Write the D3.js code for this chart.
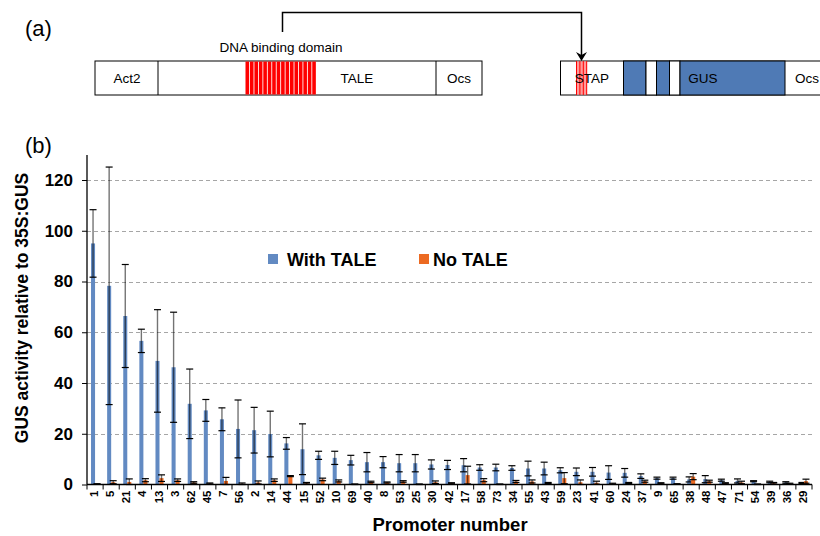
<!DOCTYPE html>
<html>
<head>
<meta charset="utf-8">
<script src="https://cdn.jsdelivr.net/npm/d3@7"></script>
<style>
  body { margin: 0; background: #fff; }
  svg { font-family: "Liberation Sans", Arial, sans-serif; }
</style>
</head>
<body>
<div id="chart-area"></div>
<script>
const promoters = ["1","5","21","4","13","3","62","45","7","56","2","14","44","15","52","10","69","40","8","53","25","30","42","17","58","73","34","55","43","59","23","41","60","24","37","9","65","38","48","47","71","54","39","36","29"]
const withTale = [95.0,78.3,66.4,56.6,48.7,46.2,31.8,29.2,25.7,21.9,21.4,19.9,16.2,13.9,11.5,10.5,9.6,8.8,8.8,8.4,8.4,7.9,7.7,7.6,6.7,6.7,6.5,6.3,6.3,5.6,5.0,5.0,4.7,4.6,3.3,2.5,2.5,2.0,2.1,1.7,1.4,1.3,1.0,0.8,0.6]
const withErr = [13.3,46.8,20.3,4.6,20.2,21.7,13.7,4.3,4.5,11.4,9.0,9.0,2.3,10.0,1.6,2.6,1.9,3.8,2.2,3.4,3.4,1.8,1.8,2.6,1.1,1.3,0.9,2.9,2.5,1.0,1.5,1.7,2.7,1.7,0.9,0.4,0.4,1.0,1.4,0.4,0.8,0.2,0.3,0.3,0.2]
const noTale = [0.2,0.9,1.0,1.7,2.5,1.7,0.8,0.4,1.4,0.3,0.8,1.7,3.3,0.5,2.0,1.4,0.1,1.0,0.8,1.2,0.1,0.9,0.5,3.7,1.7,0.1,1.2,1.2,0.6,2.5,0.9,0.7,0.3,0.6,1.3,0.5,0.2,3.1,1.3,0.5,0.8,0.1,0.5,0.3,1.3]
const noErr = [0.1,0.6,1.2,0.6,1.3,0.5,0.3,0.2,1.4,0.3,0.6,0.5,0.2,0.3,0.5,0.4,0.1,0.3,0.2,0.3,0.1,0.5,0.2,3.5,0.6,0.1,0.4,0.6,0.2,2.2,0.9,0.6,0.2,0.2,0.4,0.2,0.1,1.2,0.4,0.2,0.5,0.1,0.3,0.2,0.8]
const yTicks = [0, 20, 40, 60, 80, 100, 120]

const BLUE = "#628ac2"
const ORANGE = "#ec6a22"

const svg = d3.select("#chart-area").append("svg")
  .attr("width", 820)
  .attr("height", 536)

// ---- (a) construct diagram ----
const a = svg.append("g")
a.append("text").attr("x", 25).attr("y", 36).attr("font-size", "22px").text("(a)")

// TALE construct
a.append("rect").attr("x", 95).attr("y", 61).attr("width", 387).attr("height", 34)
  .attr("fill", "#fff").attr("stroke", "#000").attr("stroke-width", 1)
for (let i = 0; i < 16; i++) {
  a.append("rect").attr("x", 245.5 + i * 4.45).attr("y", 61.5).attr("width", 3.6).attr("height", 33)
    .attr("fill", "#ff0000")
}
a.append("line").attr("x1", 158).attr("x2", 158).attr("y1", 61).attr("y2", 95).attr("stroke", "#000")
a.append("line").attr("x1", 436).attr("x2", 436).attr("y1", 61).attr("y2", 95).attr("stroke", "#000")
a.append("text").attr("x", 127).attr("y", 83).attr("font-size", "13.5px").attr("text-anchor", "middle").text("Act2")
a.append("text").attr("x", 357).attr("y", 83).attr("font-size", "13.5px").attr("text-anchor", "middle").text("TALE")
a.append("text").attr("x", 459).attr("y", 83).attr("font-size", "13.5px").attr("text-anchor", "middle").text("Ocs")
a.append("text").attr("x", 281).attr("y", 52).attr("font-size", "13.5px").attr("text-anchor", "middle").text("DNA binding domain")

// connector arrow
a.append("path").attr("d", "M282.5,32 V12.5 H581.5 V57").attr("fill", "none").attr("stroke", "#000").attr("stroke-width", 1.5)
a.append("path").attr("d", "M576,52 L581.5,61 L587,52 L581.5,55 Z").attr("fill", "#000")

// reporter construct
a.append("rect").attr("x", 560.5).attr("y", 61).attr("width", 270).attr("height", 34)
  .attr("fill", "#fff").attr("stroke", "#000").attr("stroke-width", 1)
a.append("rect").attr("x", 576).attr("y", 61.5).attr("width", 11).attr("height", 33).attr("fill", "#ff9a9a")
for (let i = 0; i < 4; i++) {
  a.append("line").attr("x1", 576.5 + i * 3.4).attr("x2", 576.5 + i * 3.4).attr("y1", 61).attr("y2", 95)
    .attr("stroke", "#ff0000").attr("stroke-width", 1)
}
const blocks = [[623.5, 646, true], [646, 656.5, false], [656.5, 669.5, true], [669.5, 680, false], [680, 785, true]]
blocks.forEach(b => {
  a.append("rect").attr("x", b[0]).attr("y", 61).attr("width", b[1] - b[0]).attr("height", 34)
    .attr("fill", b[2] ? "#4f7ab5" : "#fff").attr("stroke", "#000").attr("stroke-width", 1)
})
a.append("text").attr("x", 592).attr("y", 83).attr("font-size", "13.5px").attr("text-anchor", "middle").text("STAP")
a.append("text").attr("x", 703).attr("y", 83).attr("font-size", "13.5px").attr("text-anchor", "middle").text("GUS")
a.append("text").attr("x", 807).attr("y", 83).attr("font-size", "13.5px").attr("text-anchor", "middle").text("Ocs")

// ---- (b) bar chart ----
svg.append("text").attr("x", 25).attr("y", 153).attr("font-size", "22px").text("(b)")

const MARGIN = { LEFT: 87, TOP: 155 }
const WIDTH = 725
const HEIGHT = 484.5 - MARGIN.TOP

const g = svg.append("g").attr("transform", `translate(${MARGIN.LEFT}, ${MARGIN.TOP})`)

const x = d3.scaleBand().domain(promoters).range([0, WIDTH]).padding(0)
const y = d3.scaleLinear().domain([0, 130]).range([HEIGHT, HEIGHT - 130 * 2.5375])

// gridlines
g.selectAll(".grid").data(yTicks.filter(t => t > 0)).enter().append("line")
  .attr("x1", 0).attr("x2", WIDTH)
  .attr("y1", d => Math.round(y(d)) + 0.5).attr("y2", d => Math.round(y(d)) + 0.5)
  .attr("stroke", "#a6a6a6").attr("stroke-width", 1.2).attr("stroke-dasharray", "4,3")

const bw = x.bandwidth()
const series = [
  { vals: withTale, errs: withErr, color: BLUE, off: 0.25 },
  { vals: noTale, errs: noErr, color: ORANGE, off: 0.5 }
]

series.forEach(s => {
  const data = promoters.map((p, i) => ({ p, v: s.vals[i], e: s.errs[i] }))
  g.selectAll(null).data(data).enter().append("rect")
    .attr("x", d => x(d.p) + bw * s.off)
    .attr("width", bw * 0.25)
    .attr("y", d => y(d.v))
    .attr("height", d => HEIGHT - y(d.v))
    .attr("fill", s.color)
  // error bars
  const eb = g.selectAll(null).data(data).enter().append("g")
    .attr("transform", d => `translate(${x(d.p) + bw * (s.off + 0.125)},0)`)
  eb.append("line")
    .attr("y1", d => y(Math.max(0, d.v - d.e))).attr("y2", d => y(d.v + d.e))
    .attr("stroke", "#000").attr("stroke-opacity", 0.55).attr("stroke-width", 1.4)
  eb.append("line").attr("x1", -3.5).attr("x2", 3.5)
    .attr("y1", d => y(d.v + d.e)).attr("y2", d => y(d.v + d.e))
    .attr("stroke", "#000").attr("stroke-width", 1.2)
  eb.append("line").attr("x1", -3.5).attr("x2", 3.5)
    .attr("y1", d => y(Math.max(0, d.v - d.e))).attr("y2", d => y(Math.max(0, d.v - d.e)))
    .attr("stroke", "#000").attr("stroke-width", 1.2)
})

// y axis
const yAxis = d3.axisLeft(y).tickValues(yTicks).tickSize(5).tickFormat(d3.format("d"))
const yg = g.append("g").call(yAxis)
yg.select(".domain").attr("d", `M0,${HEIGHT}V0`).attr("stroke-width", 1.3)
yg.selectAll("text").attr("font-size", "17px").attr("font-weight", "bold")
  .attr("font-family", "Liberation Sans, Arial, sans-serif").attr("x", -14)

// x axis
const xg = g.append("g").attr("transform", `translate(0,${HEIGHT})`)
xg.append("line").attr("x1", 0).attr("x2", WIDTH).attr("stroke", "#000").attr("stroke-width", 1.3)
xg.selectAll(".tk").data(d3.range(promoters.length + 1)).enter().append("line")
  .attr("x1", i => i * bw).attr("x2", i => i * bw).attr("y1", 0).attr("y2", 5)
  .attr("stroke", "#000")
xg.selectAll(".lbl").data(promoters).enter().append("text")
  .attr("transform", d => `translate(${x(d) + bw / 2 - 1},6) rotate(-90)`)
  .attr("text-anchor", "end").attr("dy", "0.35em")
  .attr("font-size", "11.5px").attr("font-weight", "bold")
  .text(d => d)

// axis titles
svg.append("text")
  .attr("transform", `translate(28,308) rotate(-90)`)
  .attr("text-anchor", "middle").attr("font-size", "17.5px").attr("font-weight", "bold")
  .text("GUS activity relative to 35S:GUS")
svg.append("text").attr("x", 450).attr("y", 531).attr("text-anchor", "middle")
  .attr("font-size", "18.5px").attr("font-weight", "bold").text("Promoter number")

// legend
const legend = svg.append("g")
legend.append("rect").attr("x", 268).attr("y", 254).attr("width", 10).attr("height", 10).attr("fill", BLUE)
legend.append("text").attr("x", 287).attr("y", 265.5).attr("font-size", "18px").attr("font-weight", "bold").text("With TALE")
legend.append("rect").attr("x", 419).attr("y", 254).attr("width", 10).attr("height", 10).attr("fill", ORANGE)
legend.append("text").attr("x", 433).attr("y", 265.5).attr("font-size", "18px").attr("font-weight", "bold").text("No TALE")
</script>
</body>
</html>
